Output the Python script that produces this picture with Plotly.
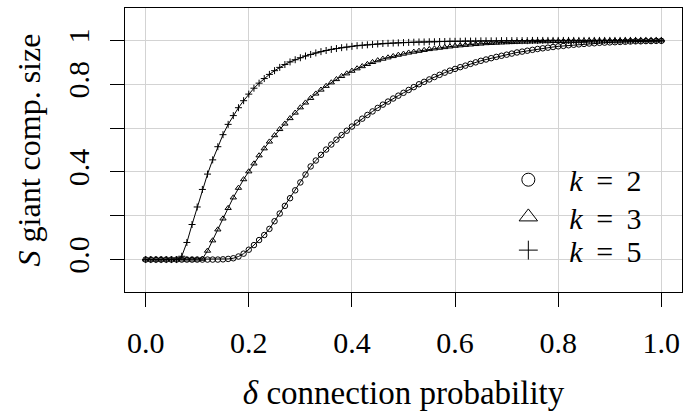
import plotly.graph_objects as go

delta = [round(i * 0.01, 2) for i in range(101)]

s_k2 = [0.0]*15 + [
    0.001, 0.003, 0.006, 0.014, 0.027, 0.045, 0.066, 0.089, 0.112, 0.140,
    0.175, 0.210, 0.245, 0.280, 0.316, 0.352, 0.388, 0.425, 0.452, 0.478,
    0.502, 0.525, 0.547, 0.568, 0.588, 0.607, 0.625, 0.643, 0.660, 0.676,
    0.692, 0.707, 0.721, 0.735, 0.748, 0.761, 0.774, 0.787, 0.800, 0.811,
    0.822, 0.833, 0.843, 0.853, 0.862, 0.870, 0.878, 0.885, 0.893, 0.900,
    0.907, 0.913, 0.919, 0.925, 0.930, 0.935, 0.940, 0.945, 0.949, 0.953,
    0.957, 0.961, 0.964, 0.967, 0.970, 0.973, 0.975, 0.978, 0.980, 0.982,
    0.984, 0.986, 0.987, 0.989, 0.990, 0.991, 0.992, 0.993, 0.994, 0.995,
    0.996, 0.996, 0.997, 0.997, 0.998, 0.998]

s_k3 = [0.0]*11 + [0.003,
    0.040, 0.087, 0.137, 0.187, 0.235, 0.283, 0.327, 0.366, 0.402, 0.438,
    0.475, 0.507, 0.538, 0.567, 0.595, 0.620, 0.645, 0.670, 0.694, 0.716,
    0.737, 0.757, 0.775, 0.792, 0.808, 0.823, 0.837, 0.849, 0.861, 0.872,
    0.882, 0.892, 0.901, 0.909, 0.916, 0.922, 0.928, 0.934, 0.939, 0.944,
    0.948, 0.952, 0.956, 0.960, 0.963, 0.966, 0.969, 0.972, 0.975, 0.977,
    0.979, 0.981, 0.983, 0.985, 0.987, 0.988, 0.989, 0.990, 0.991, 0.992,
    0.993, 0.994, 0.994, 0.995, 0.995, 0.996, 0.996, 0.997, 0.997, 0.997,
    0.998, 0.998, 0.998, 0.998, 0.999, 0.999, 0.999, 0.999, 0.999, 0.999,
    0.999, 1.0, 1.0, 1.0, 1.0, 1.0, 1.0, 1.0, 1.0, 1.0]

s_k5 = [0.0]*7 + [
    0.015, 0.078, 0.160, 0.240, 0.320, 0.390, 0.455, 0.515, 0.570, 0.617,
    0.657, 0.693, 0.725, 0.755, 0.782, 0.805, 0.826, 0.845, 0.862, 0.877,
    0.890, 0.902, 0.912, 0.921, 0.929, 0.936, 0.943, 0.949, 0.954, 0.959,
    0.963, 0.967, 0.970, 0.973, 0.976, 0.978, 0.980, 0.982, 0.984, 0.986,
    0.987, 0.988, 0.989, 0.990, 0.991, 0.992, 0.993, 0.993, 0.994, 0.994,
    0.995, 0.995, 0.996, 0.996, 0.996, 0.997, 0.997, 0.997, 0.998, 0.998,
    0.998, 0.998, 0.999, 0.999, 0.999, 0.999, 0.999, 0.999, 1.0, 1.0,
    1.0, 1.0, 1.0, 1.0, 1.0, 1.0, 1.0, 1.0, 1.0, 1.0,
    1.0, 1.0, 1.0, 1.0, 1.0, 1.0, 1.0, 1.0, 1.0, 1.0,
    1.0, 1.0, 1.0, 1.0]

series_names = ["<i>k</i> \u2009= \u20092", "<i>k</i> \u2009= \u20093", "<i>k</i> \u2009= \u20095"]
series_values = [s_k2, s_k3, s_k5]
symbols = ["circle-open", "triangle-up-open", "cross-thin-open"]
data_sizes = [5.5, 5.5, 5]
legend_sizes = [13, 16, 13.5]
legend_ids = ["legend", "legend2", "legend3"]

x_tickvals = [0, 0.2, 0.4, 0.6, 0.8, 1.0]
x_ticktext = ["0.0", "0.2", "0.4", "0.6", "0.8", "1.0"]
y_tickvals = [0, 0.2, 0.4, 0.6, 0.8, 1.0]
y_ticktext = ["0.0", "", "0.4", "", "0.8", "1"]

FONT = "Liberation Serif"

fig = go.Figure()
for name, vals, sym, ds in zip(series_names, series_values, symbols, data_sizes):
    fig.add_trace(go.Scatter(
        x=delta, y=vals, mode="lines+markers", showlegend=False,
        line=dict(color="black", width=1),
        marker=dict(symbol=sym, size=ds, color="black", line=dict(color="black", width=1)),
    ))
for name, sym, ls, lid in zip(series_names, symbols, legend_sizes, legend_ids):
    fig.add_trace(go.Scatter(
        x=[None], y=[None], mode="markers", name=name, showlegend=True, legend=lid,
        marker=dict(symbol=sym, size=ls, color="black", line=dict(color="black", width=1)),
    ))

legend_common = dict(x=0.6505, xanchor="left", yanchor="top",
                     bgcolor="rgba(0,0,0,0)", font=dict(family=FONT, size=30),
                     itemsizing="trace", itemwidth=72)

fig.update_layout(
    width=684, height=411,
    margin=dict(l=125, r=1, t=8, b=112),
    paper_bgcolor="white", plot_bgcolor="white",
    font=dict(family=FONT, size=30, color="black"),
    legend=dict(y=0.487, **legend_common),
    legend2=dict(y=0.356, **legend_common),
    legend3=dict(y=0.239, **legend_common),
    xaxis=dict(range=[-0.04, 1.04], tickvals=x_tickvals, ticktext=x_ticktext,
               showgrid=True, gridcolor="#d3d3d3", gridwidth=1, zeroline=False,
               showline=True, linecolor="black", linewidth=1, mirror=True,
               ticks="outside", ticklen=14, tickcolor="black", tickwidth=1,
               ticklabelstandoff=10,
               tickfont=dict(family=FONT, size=30),
               title=dict(text="<i>δ</i> connection probability", standoff=28,
                          font=dict(family=FONT, size=33))),
    yaxis=dict(range=[-0.148, 1.148], tickvals=y_tickvals, ticktext=y_ticktext,
               showgrid=True, gridcolor="#d3d3d3", gridwidth=1, zeroline=False,
               showline=True, linecolor="black", linewidth=1, mirror=True,
               ticks="outside", ticklen=14, tickcolor="black", tickwidth=1,
               tickangle=-90, ticklabelstandoff=9,
               tickfont=dict(family=FONT, size=30),
               title=dict(text="<i>S</i> giant comp. size\u00a0\u00a0\u00a0\u00a0", standoff=11,
                          font=dict(family=FONT, size=32))),
)

fig.write_html("out.html", post_script="document.body.style.margin='0';",
               config={"displayModeBar": False})
